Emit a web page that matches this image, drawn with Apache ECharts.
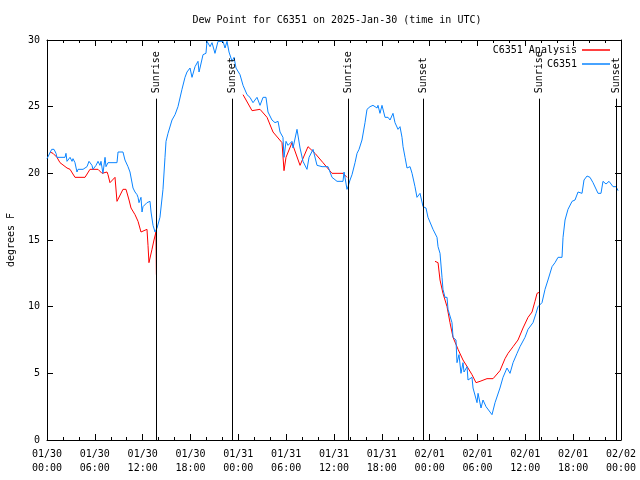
<!DOCTYPE html>
<html>
<head>
<meta charset="utf-8">
<script src="https://cdn.jsdelivr.net/npm/echarts@6/dist/echarts.min.js"></script>
<style>html,body{margin:0;padding:0;background:#fff}#c{width:640px;height:480px}</style>
</head>
<body>
<div id="c"></div>
<script>
// hours since 2025-01-30 00:00 UTC, dew point in F
const obsPoints = [[0,21.1],[0.59,21.8],[0.88,21.8],[1.13,21.5],[1.25,21.2],[2.26,21.2],[2.38,21.5],[2.51,20.9],[2.89,21.2],[3.14,20.9],[3.26,21.1],[3.51,20.8],[3.76,20.1],[3.89,20.3],[4.52,20.3],[5.02,20.5],[5.27,20.9],[5.64,20.6],[5.77,20.3],[6.15,20.6],[6.40,20.9],[6.65,20.6],[6.77,20.9],[7.02,20.0],[7.28,21.2],[7.40,20.5],[7.65,20.8],[8.78,20.8],[8.91,21.6],[9.53,21.6],[9.78,21.0],[10.16,20.5],[10.41,20.1],[10.79,18.9],[11.04,18.6],[11.29,18.4],[11.42,18.2],[11.54,17.8],[11.79,18.2],[11.92,17.1],[12.04,17.5],[12.54,17.8],[12.92,17.9],[13.05,17.1],[13.30,16.1],[13.55,15.6],[13.80,15.9],[13.92,15.9],[14.17,16.7],[14.55,18.8],[14.80,21.2],[14.93,22.4],[15.18,23.0],[15.68,24.0],[16.06,24.4],[16.43,25.0],[16.93,26.3],[17.31,27.2],[17.56,27.6],[17.94,27.9],[18.19,27.2],[18.57,28.0],[18.94,28.4],[19.07,27.6],[19.19,27.9],[19.57,28.9],[19.94,29.0],[20.07,29.9],[20.45,29.5],[20.70,29.8],[21.07,29.0],[21.45,29.9],[22.08,29.9],[22.33,29.4],[22.58,29.9],[22.83,29.1],[23.21,28.4],[23.46,28.7],[23.71,27.9],[24.21,27.4],[24.59,26.6],[25.09,25.9],[25.46,25.7],[25.84,25.3],[26.34,25.7],[26.72,25.1],[27.10,25.7],[27.47,25.7],[27.72,24.6],[28.22,24.0],[28.60,23.8],[28.98,23.9],[29.23,23.1],[29.60,22.7],[29.73,21.2],[29.98,22.4],[30.23,22.1],[30.73,22.4],[30.86,21.9],[31.36,23.3],[31.74,21.9],[32.11,20.9],[32.61,20.3],[32.87,21.2],[33.37,21.8],[33.87,20.6],[34.50,20.5],[35.25,20.5],[35.75,19.7],[36.38,19.4],[37.13,19.4],[37.26,20.1],[37.63,18.8],[37.76,19.0],[38.01,19.5],[38.26,19.9],[38.64,20.8],[38.89,21.5],[39.14,21.8],[39.51,22.5],[39.89,23.8],[40.14,24.8],[40.52,25.0],[40.89,25.1],[41.40,24.9],[41.52,25.1],[41.77,24.5],[42.02,25.1],[42.40,24.2],[42.78,24.2],[43.03,24.0],[43.40,24.5],[43.65,23.8],[44.03,23.3],[44.28,23.5],[44.53,22.7],[44.66,22.0],[44.91,21.2],[45.16,20.4],[45.28,20.3],[45.54,20.5],[45.79,20.0],[46.16,19.0],[46.41,18.2],[46.79,18.5],[47.17,17.5],[47.54,17.4],[47.79,16.7],[48.42,15.8],[48.92,15.2],[49.05,14.5],[49.30,14.0],[49.55,12.2],[49.67,11.3],[49.92,10.7],[50.18,10.7],[50.30,9.8],[50.80,8.8],[50.93,7.7],[51.30,7.5],[51.43,5.8],[51.68,6.4],[51.93,5.0],[52.18,5.8],[52.31,5.1],[52.69,5.5],[52.81,4.5],[53.31,4.7],[53.44,3.9],[53.94,2.8],[54.07,3.5],[54.44,2.4],[54.69,3.0],[55.07,2.5],[55.32,2.4],[55.82,1.9],[56.20,2.8],[56.82,3.9],[57.20,4.7],[57.70,5.4],[58.08,5.0],[58.46,5.8],[58.96,6.5],[59.33,7.0],[59.96,7.7],[60.34,8.3],[60.96,8.8],[61.34,9.5],[61.59,10.0],[62.09,10.3],[62.47,11.3],[62.84,12.0],[63.35,13.0],[63.72,13.3],[64.10,13.7],[64.60,13.7],[64.73,15.2],[64.98,16.5],[65.35,17.3],[65.86,17.9],[66.23,18.0],[66.61,18.6],[67.11,18.5],[67.36,19.5],[67.74,19.8],[68.11,19.7],[68.49,19.3],[69.12,18.5],[69.49,18.5],[69.74,19.4],[70.12,19.2],[70.50,19.4],[71.00,19.0],[71.38,19.0],[71.63,18.7]];

const analysisPoints = [[0.38,21.6],[0.75,21.5],[1.25,21.2],[1.63,20.8],[2.51,20.4],[2.89,20.3],[3.51,19.7],[4.77,19.7],[5.39,20.3],[6.40,20.3],[6.90,20.0],[7.53,20.1],[7.65,19.9],[7.90,19.3],[8.53,19.7],[8.78,17.9],[9.53,18.8],[9.91,18.8],[10.29,18.0],[10.54,17.4],[11.04,16.9],[11.42,16.4],[11.79,15.6],[12.54,15.8],[12.67,14.6],[12.79,13.3],[13.17,14.3],[13.42,15.0],[13.67,15.6],[13.72,12.4],
  [18,null],
  [24.59,25.9],[25.72,24.7],[26.72,24.8],[27.60,24.2],[28.35,23.1],[29.48,22.3],[29.73,20.2],[29.98,21.2],[30.73,22.3],[31.74,20.6],[32.74,22.0],[33.62,21.5],[34.62,20.8],[35.75,20.0],[36.38,20.0],[37.13,20.0],[37.63,19.7],
  [43,null],
  [48.67,13.4],[49.05,13.3],[49.30,12.0],[49.67,11.0],[50.18,10.0],[50.55,8.8],[50.93,7.7],[51.56,6.8],[52.18,6.0],[52.81,5.4],[53.31,4.9],[53.81,4.3],[54.32,4.4],[55.19,4.6],[55.95,4.6],[56.82,5.2],[57.45,6.1],[57.83,6.5],[58.46,7.0],[59.08,7.5],[59.71,8.4],[60.34,9.2],[60.84,9.6],[61.21,10.4],[61.47,11.0],[61.84,11.1]];

const sunEventHours = [13.67, 23.21, 37.76, 47.17, 61.72, 71.34];
const sunEventNames = ['Sunrise', 'Sunset', 'Sunrise', 'Sunset', 'Sunrise', 'Sunset'];
const dayLabels = ['01/30', '01/31', '02/01', '02/02'];
const yTicks = [0, 5, 10, 15, 20, 25, 30];

const FONT = 'DejaVu Sans Mono';
const SUN_LINE_TOP = 25.6;
const SUN_LABEL_BASE = 26.0;

function xLabel(h) {
  const d = Math.floor(h / 24);
  const t = h - d * 24;
  return dayLabels[d] + '\n' + (t < 10 ? '0' : '') + t + ':00';
}

const chart = echarts.init(document.getElementById('c'), null, {renderer: 'canvas'});
const baseX = {
  type: 'value', min: 0, max: 72, interval: 6,
  axisLine: {show: true, onZero: false, lineStyle: {color: '#000', width: 1}},
  axisTick: {show: true, inside: true, length: 6, lineStyle: {color: '#000'}},
  minorTick: {show: true, splitNumber: 3, length: 3, lineStyle: {color: '#000'}},
  splitLine: {show: false}, minorSplitLine: {show: false}
};
const baseY = {
  type: 'value', min: yTicks[0], max: yTicks[yTicks.length - 1], interval: 5,
  axisLine: {show: true, onZero: false, lineStyle: {color: '#000', width: 1}},
  axisTick: {show: true, inside: true, length: 6, lineStyle: {color: '#000'}},
  splitLine: {show: false}
};

chart.setOption({
  animation: false,
  backgroundColor: '#fff',
  textStyle: {fontFamily: FONT},
  title: {
    text: 'Dew Point for C6351 on 2025-Jan-30 (time in UTC)',
    left: 332, top: 10, textAlign: 'center',
    textStyle: {fontFamily: FONT, fontSize: 10, fontWeight: 'normal', color: '#000'}
  },
  grid: {left: 47, right: 19, top: 40, bottom: 40, containLabel: false, outerBoundsMode: 'none'},
  legend: {
    orient: 'vertical', right: 30, top: 44, align: 'right', padding: 0,
    itemWidth: 28, itemHeight: 1.5, itemGap: 2, icon: 'rect',
    textStyle: {fontFamily: FONT, fontSize: 10, color: '#000', lineHeight: 12},
    data: ['C6351 Analysis', 'C6351']
  },
  xAxis: [
    Object.assign({}, baseX, {
      position: 'bottom',
      axisLabel: {show: true, margin: 7, color: '#000', fontFamily: FONT, fontSize: 10, lineHeight: 14, formatter: xLabel}
    }),
    Object.assign({}, baseX, {position: 'top', axisLabel: {show: false}})
  ],
  yAxis: [
    Object.assign({}, baseY, {
      position: 'left',
      name: 'degrees F', nameLocation: 'middle', nameGap: 31, nameRotate: 90,
      nameTextStyle: {fontFamily: FONT, fontSize: 10, color: '#000'},
      axisLabel: {show: true, margin: 7, color: '#000', fontFamily: FONT, fontSize: 10}
    }),
    Object.assign({}, baseY, {position: 'right', axisLabel: {show: false}})
  ],
  series: [
    {
      name: 'C6351 Analysis', type: 'line', xAxisIndex: 0, yAxisIndex: 0,
      data: analysisPoints.map(p => [p[0], p[1] === null ? '-' : p[1]]),
      showSymbol: false, symbol: 'none', connectNulls: false,
      lineStyle: {color: '#ff0000', width: 1}, itemStyle: {color: '#ff0000'}, z: 2
    },
    {
      name: 'C6351', type: 'line', xAxisIndex: 0, yAxisIndex: 0,
      data: obsPoints,
      showSymbol: false, symbol: 'none',
      lineStyle: {color: '#0a84ff', width: 1}, itemStyle: {color: '#0a84ff'}, z: 3
    },
    {
      name: 'sun', type: 'custom', xAxisIndex: 0, yAxisIndex: 0, z: 5, silent: true,
      data: sunEventHours.map(h => [h]),
      renderItem: function (params, api) {
        const h = api.value(0);
        const top = api.coord([h, SUN_LINE_TOP]);
        const bot = api.coord([h, 0]);
        const lab = api.coord([h, SUN_LABEL_BASE]);
        const x = Math.round(top[0]) + 0.5;
        return {
          type: 'group',
          children: [
            {type: 'line', shape: {x1: x, y1: top[1], x2: x, y2: bot[1]}, style: {stroke: '#000', lineWidth: 1}},
            {type: 'text', x: x, y: lab[1], rotation: Math.PI / 2,
              style: {text: sunEventNames[params.dataIndex], align: 'left', verticalAlign: 'middle', font: '10px "' + FONT + '"', fill: '#000'}}
          ]
        };
      }
    }
  ]
});
</script>
</body>
</html>
